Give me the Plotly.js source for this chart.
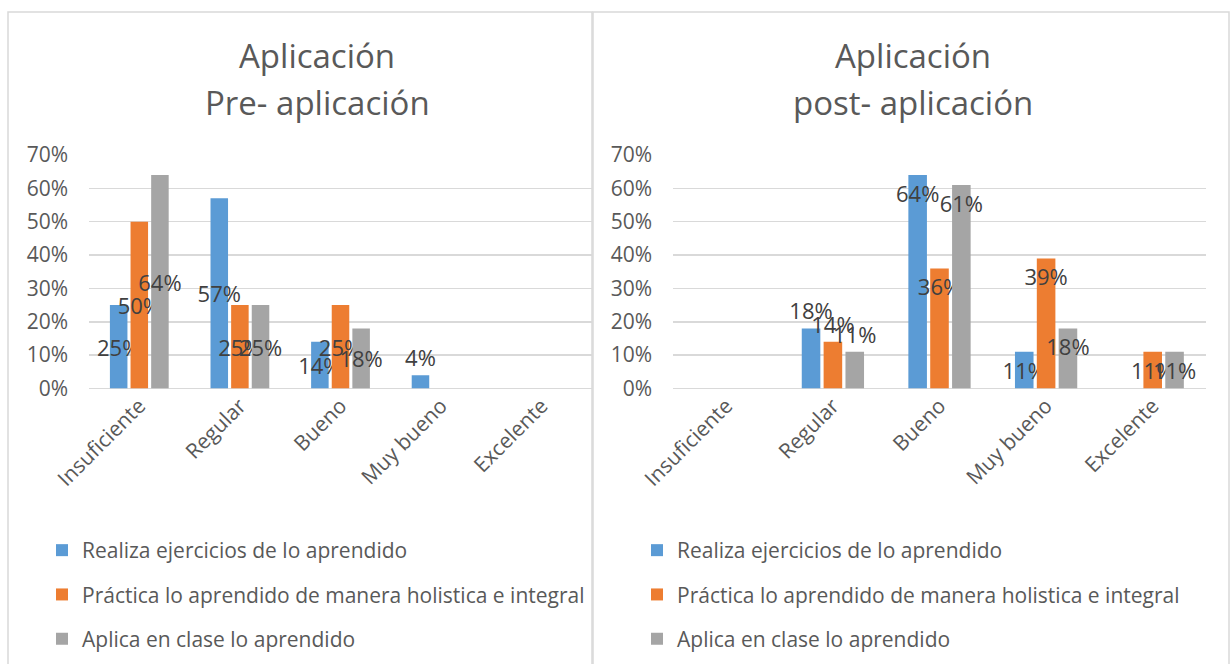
<!DOCTYPE html>
<html>
<head>
<meta charset="utf-8">
<script src="https://cdn.plot.ly/plotly-3.0.1.min.js"></script>
<style>html,body{margin:0;padding:0;background:#fff;}#chart{width:1232px;height:664px;}</style>
</head>
<body>
<div id="chart"></div>
<script>
// ---- data ----
const categories = ['Insuficiente', 'Regular', 'Bueno', 'Muy bueno', 'Excelente'];
const seriesNames = ['Realiza ejercicios de lo aprendido',
  'Práctica lo aprendido de manera holistica e integral',
  'Aplica en clase lo aprendido'];
const preRealiza  = [25, 57, 14, 4, 0];
const prePractica = [50, 25, 25, 0, 0];
const preAplica   = [64, 25, 18, 0, 0];
const postRealiza  = [0, 18, 64, 11, 0];
const postPractica = [0, 14, 36, 39, 11];
const postAplica   = [0, 11, 61, 18, 11];
const yTicks = [0, 10, 20, 30, 40, 50, 60, 70];

// ---- style ----
const W = 1232, H = 664;
const colors = ['#5b9bd5', '#ed7d31', '#a5a5a5'];
const FONT = 'Open Sans, sans-serif';
const textGray = '#595959';
const labelGray = '#404040';
const px = v => v / W;
const py = v => 1 - v / H;

const pos = {
  pre: [
    ['inside', 'inside', 'inside', 'outside', 'none'],
    ['inside', 'inside', 'inside', 'none', 'none'],
    ['inside', 'inside', 'inside', 'none', 'none']
  ],
  post: [
    ['none', 'outside', 'inside', 'inside', 'none'],
    ['none', 'outside', 'inside', 'inside', 'inside'],
    ['none', 'outside', 'inside', 'inside', 'inside']
  ]
};

function mk(vals, i, xa, ya, legend, posArr, anchor) {
  const f = {family: FONT, size: 22, color: labelGray};
  return {
    type: 'bar', x: categories, y: vals, name: seriesNames[i],
    xaxis: xa, yaxis: ya, legend: legend, legendgroup: legend + i,
    marker: {color: colors[i], line: {width: 0}},
    text: vals.map(v => v > 0 ? v + '%' : ''),
    textposition: posArr, insidetextanchor: anchor, textangle: 0,
    constraintext: 'none', cliponaxis: false,
    textfont: f, insidetextfont: f, outsidetextfont: f,
    hoverinfo: 'skip'
  };
}

const traces = [
  mk(preRealiza, 0, 'x', 'y', 'legend', pos.pre[0], 'middle'),
  mk(prePractica, 1, 'x', 'y', 'legend', pos.pre[1], 'middle'),
  mk(preAplica, 2, 'x', 'y', 'legend', pos.pre[2], 'middle'),
  mk(postRealiza, 0, 'x2', 'y2', 'legend2', pos.post[0], 'end'),
  mk(postPractica, 1, 'x2', 'y2', 'legend2', pos.post[1], 'end'),
  mk(postAplica, 2, 'x2', 'y2', 'legend2', pos.post[2], 'end')
];

const xCommon = {
  type: 'category', tickangle: -45, showgrid: false, zeroline: false,
  showline: false, ticks: '', tickfont: {family: FONT, size: 21, color: textGray},
  fixedrange: true
};
const yCommon = {
  range: [0, 70], tickvals: yTicks, ticktext: yTicks.map(v => v + '%'),
  showgrid: true, gridcolor: '#d9d9d9', gridwidth: 1.5, zeroline: true,
  zerolinecolor: '#d9d9d9', zerolinewidth: 1.5, showline: false, ticks: '',
  ticklabelstandoff: 20,
  tickfont: {family: FONT, size: 21, color: textGray}, fixedrange: true
};

const legendCommon = {
  orientation: 'v', traceorder: 'grouped', tracegroupgap: 14,
  font: {family: FONT, size: 21, color: textGray},
  bgcolor: 'rgba(0,0,0,0)', borderwidth: 0,
  xanchor: 'left', yanchor: 'top', itemclick: false, itemdoubleclick: false
};

const titleFont = {family: FONT, size: 33, color: textGray};
function ann(text, x, y) {
  return {text: text, xref: 'paper', yref: 'paper', x: px(x), y: py(y),
    xanchor: 'center', yanchor: 'middle', showarrow: false, font: titleFont};
}

const layout = {
  width: W, height: H,
  margin: {l: 0, r: 0, t: 0, b: 0},
  paper_bgcolor: '#fff', plot_bgcolor: 'rgba(0,0,0,0)',
  barmode: 'group', bargap: 0.385, bargroupgap: 0.15,
  showlegend: true, hovermode: false,
  font: {family: FONT, color: textGray},
  xaxis: Object.assign({}, xCommon, {domain: [px(89), px(592)], anchor: 'y'}),
  yaxis: Object.assign({}, yCommon, {domain: [py(388.5), py(155)], anchor: 'x'}),
  xaxis2: Object.assign({}, xCommon, {domain: [px(673), px(1206)], anchor: 'y2'}),
  yaxis2: Object.assign({}, yCommon, {domain: [py(388.5), py(155)], anchor: 'x2'}),
  legend: Object.assign({}, legendCommon, {x: px(42), y: py(530)}),
  legend2: Object.assign({}, legendCommon, {x: px(637), y: py(530)}),
  annotations: [
    ann('Aplicación', 317, 55),
    ann('Pre- aplicación', 317, 102),
    ann('Aplicación', 913, 55),
    ann('post- aplicación', 913, 102)
  ],
  shapes: [
    {type: 'rect', xref: 'paper', yref: 'paper', x0: px(8), x1: px(592), y0: -0.05, y1: py(12),
     line: {color: '#d9d9d9', width: 1.5}, fillcolor: 'rgba(0,0,0,0)', layer: 'below'},
    {type: 'rect', xref: 'paper', yref: 'paper', x0: px(593), x1: px(1229), y0: -0.05, y1: py(12),
     line: {color: '#d9d9d9', width: 1.5}, fillcolor: 'rgba(0,0,0,0)', layer: 'below'}
  ]
};

Plotly.newPlot('chart', traces, layout, {staticPlot: true, displayModeBar: false});
</script>
</body>
</html>
